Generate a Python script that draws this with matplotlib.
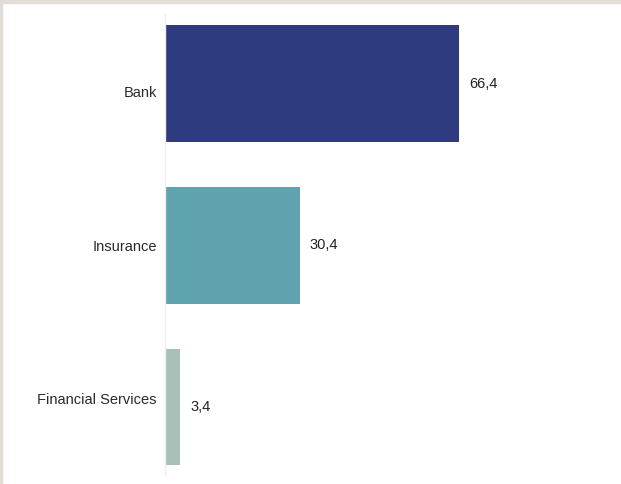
import matplotlib
matplotlib.use("Agg")
import matplotlib.pyplot as plt
from matplotlib.patches import Rectangle

categories = ["Bank", "Insurance", "Financial Services"]
values = [66.4, 30.4, 3.4]
labels = ["66,4", "30,4", "3,4"]
colors = ["#2e3b7e", "#5fa3ae", "#a9c0b8"]

plt.rcParams["font.family"] = ["Liberation Sans", "DejaVu Sans"]

W, H = 621, 484
fig = plt.figure(figsize=(W / 100, H / 100), dpi=100, facecolor="white")
# light frame on top and left edges
fig.patches.append(Rectangle((0, 1 - 3 / H), 1, 3 / H, transform=fig.transFigure,
                             color="#e2ddd7", zorder=0))
fig.patches.append(Rectangle((0, 0), 2 / W, 1, transform=fig.transFigure,
                             color="#e2ddd7", zorder=0))

ax = fig.add_axes([165 / W, 9 / H, 443 / W, 461 / H])
y = list(range(len(categories)))
ax.barh(y, values, height=0.72, color=colors)
for yi, v, lab in zip(y, values, labels):
    ax.text(v + 2.3, yi, lab, va="center", ha="left", fontsize=10.5, color="#222222")

ax.set_xlim(0, 100)
ax.set_ylim(2.42, -0.43)
# category labels sit slightly inward of the bar centres, as in the original
ax.set_yticks([1 + (i - 1) * 0.95 for i in y])
ax.set_yticklabels(categories, fontsize=10.5, color="#2a2a2a")
ax.tick_params(axis="y", length=0, pad=6)
ax.set_xticks([])
for s in ["top", "right", "bottom"]:
    ax.spines[s].set_visible(False)
ax.spines["left"].set_color("#eeeeee")
ax.spines["left"].set_linewidth(1.0)

fig.savefig("out.png", dpi=100, facecolor="white")
